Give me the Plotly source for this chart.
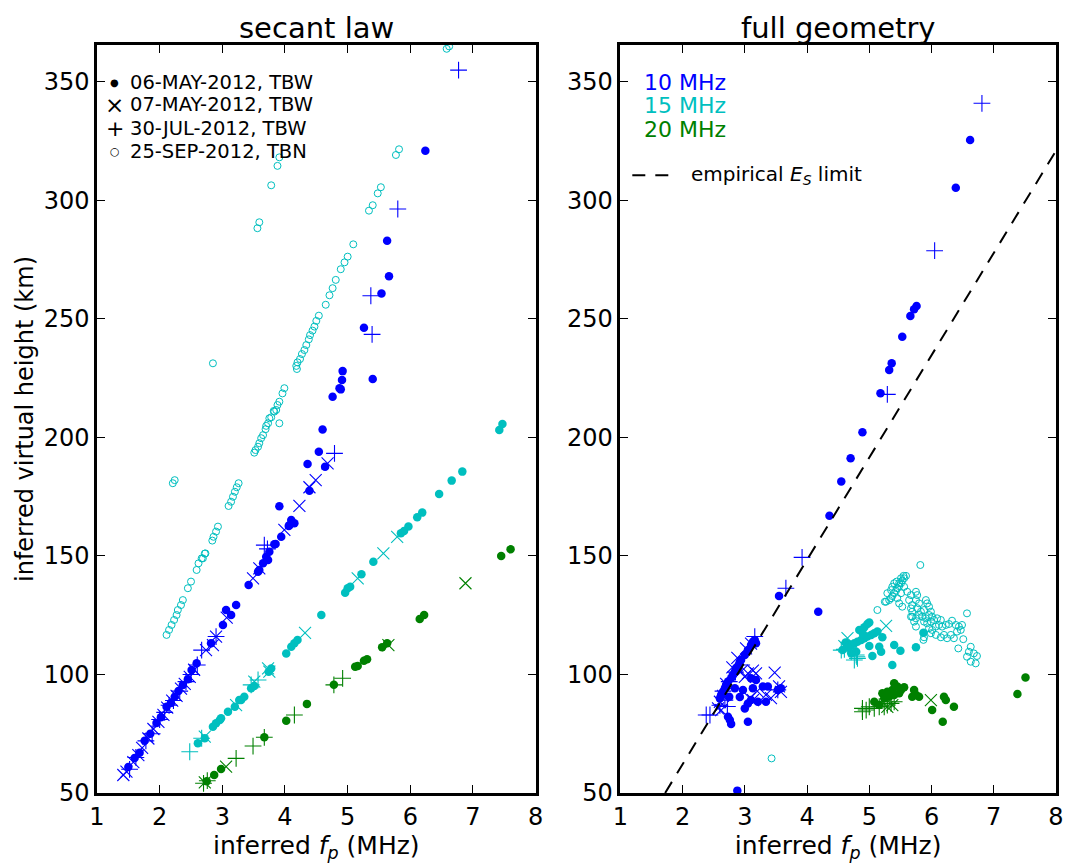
import plotly.graph_objects as go

# ---- secant law panel (left) ----
sec_b_dot_f = [1.50, 1.60, 1.68, 1.76, 1.85, 1.95, 2.02, 2.11, 2.18, 2.24, 2.30, 2.37, 2.45, 2.51, 2.59,
               2.82, 3.01, 3.06, 3.14, 3.22, 3.42, 3.57, 3.59, 3.65, 3.70, 3.73, 3.75, 3.83, 3.85, 3.94,
               4.06, 4.07, 4.10, 4.15, 3.91, 4.39, 4.36, 4.54, 4.64, 4.60, 4.76, 4.87, 4.89, 4.91, 4.92,
               5.40, 5.26, 5.54, 5.66, 5.63, 6.24]
sec_b_dot_h = [61.0, 64.8, 67.0, 72.0, 75.0, 79.5, 82.0, 86.4, 88.0, 90.6, 93.0, 95.6, 98.0, 101.9, 104.7,
               113.2, 120.9, 127.2, 125.1, 129.3, 137.8, 143.4, 144.1, 146.9, 149.7, 148.3, 151.8, 155.0, 155.1, 158.1,
               162.7, 163.0, 165.2, 163.8, 171.0, 177.5, 188.8, 194.0, 187.7, 203.4, 217.2, 220.8, 220.3, 224.3, 228.0,
               224.7, 246.3, 260.8, 268.0, 283.0, 321.0]
sec_b_x_f = [1.42, 1.47, 1.58, 1.66, 1.72, 1.82, 1.90, 1.98, 2.06, 2.12, 2.20, 2.27, 2.34, 2.40, 2.48,
             2.55, 2.74, 2.85, 2.90, 3.07, 3.49, 3.59, 3.99, 4.23, 4.39, 4.49, 4.68]
sec_b_x_h = [57.6, 59.0, 63.0, 66.0, 69.0, 73.0, 77.0, 80.0, 83.0, 86.0, 89.0, 91.0, 94.0, 96.0, 99.0,
             102.0, 110.3, 112.4, 116.0, 124.0, 140.6, 144.8, 161.0, 171.1, 179.0, 182.0, 189.1]
sec_b_p_f = [1.52, 1.62, 1.78, 1.88, 2.00, 2.08, 2.15, 2.22, 2.32, 2.42, 2.50, 2.60, 2.67, 2.90,
             3.67, 3.72, 4.79, 5.37, 5.39, 5.80, 6.77]
sec_b_p_h = [60.0, 65.0, 72.0, 75.0, 81.0, 84.0, 87.0, 89.0, 93.0, 97.0, 100.0, 104.0, 110.3, 116.0,
             154.6, 153.0, 193.3, 259.8, 243.5, 296.4, 355.0]

sec_c_dot_f = [2.61, 2.72, 2.85, 2.90, 2.96, 2.98, 3.09, 3.20, 3.27, 3.30, 3.35, 3.46, 3.51, 3.74, 3.78,
               4.02, 4.10, 4.15, 4.20, 4.58, 4.96, 5.00, 5.04, 5.22, 5.41, 5.85, 5.90, 5.97, 6.11, 6.19,
               6.46, 6.66, 6.83, 7.42, 7.47]
sec_c_dot_h = [71.0, 73.1, 78.0, 79.4, 80.8, 81.5, 84.3, 86.4, 89.2, 89.2, 90.6, 94.2, 95.1, 101.2, 102.5,
               108.9, 111.7, 113.2, 114.6, 125.1, 134.5, 136.4, 137.0, 142.3, 147.6, 159.6, 160.5, 162.4, 166.3, 168.3,
               176.2, 181.8, 185.6, 203.2, 205.7]
sec_c_x_f = [2.72, 3.22, 3.51, 3.73, 3.75, 4.32, 5.16, 5.57, 5.79]
sec_c_x_h = [73.8, 87.1, 97.0, 102.6, 101.2, 117.6, 140.6, 151.1, 158.1]
sec_c_p_f = [2.48, 2.67, 3.46, 3.57]
sec_c_p_h = [67.4, 73.1, 95.6, 97.7]

sec_g_dot_f = [2.75, 2.87, 2.98, 3.67, 4.02, 4.35, 4.78, 5.12, 5.16, 5.26, 5.31, 5.55, 5.63, 6.15, 6.22, 7.45, 7.60]
sec_g_dot_h = [55.0, 57.6, 60.1, 73.5, 80.5, 87.6, 95.7, 103.3, 103.6, 105.8, 106.4, 111.5, 113.2, 123.4, 125.1, 150.0, 152.8]
sec_g_x_f = [2.72, 3.06, 5.65, 6.88]
sec_g_x_h = [54.5, 61.1, 112.4, 138.5]
sec_g_p_f = [2.70, 2.76, 3.22, 3.49, 3.67, 4.15, 4.92, 4.78]
sec_g_p_h = [54.1, 55.2, 64.6, 69.8, 73.5, 82.9, 98.4, 95.6]

sec_c_open_f = [2.11, 2.15, 2.19, 2.23, 2.27, 2.29, 2.34, 2.37, 2.45, 2.50, 2.59, 2.62, 2.67, 2.69, 2.72, 2.73,
                2.84, 2.86, 2.90, 2.93, 3.10, 3.14, 3.17, 3.20, 3.23, 3.26, 3.51, 3.53, 3.57, 3.59, 3.62, 3.65,
                3.69, 3.70, 3.73, 3.75, 3.78, 3.82, 3.83, 3.86, 3.88, 3.91, 3.96, 3.99, 3.91, 4.18, 4.19, 4.20,
                4.24, 4.27, 4.31, 4.34, 4.38, 4.40, 4.44, 4.47, 4.50, 4.54, 4.65, 4.71, 4.76, 4.81, 4.89, 4.95,
                5.00, 5.09, 5.34, 5.40, 5.48, 5.53, 5.77, 5.82, 6.58, 6.62,
                2.21, 2.24, 2.85, 3.56, 3.59, 3.78, 3.88, 3.91]
sec_c_open_h = [116.7, 118.8, 120.9, 123.0, 125.1, 127.2, 129.3, 131.4, 136.4, 139.2, 144.1, 146.9, 149.0, 149.0, 151.0, 151.1,
                156.5, 158.1, 160.3, 162.4, 171.1, 172.9, 175.0, 177.1, 179.0, 180.7, 193.6, 194.7, 196.1, 197.6, 199.7, 201.0,
                203.5, 204.9, 206.0, 208.1, 208.5, 211.2, 210.9, 211.6, 213.7, 215.1, 218.6, 220.8, 206.0, 230.2, 228.9, 231.7,
                233.1, 235.2, 236.9, 239.0, 241.4, 243.2, 245.1, 246.8, 249.2, 251.4, 256.0, 260.0, 263.0, 266.5, 271.0, 273.9,
                276.3, 281.5, 295.7, 298.0, 303.0, 305.6, 319.2, 321.6, 364.0, 365.0,
                180.7, 182.0, 231.3, 288.3, 290.8, 306.4, 314.6, 318.2]

# ---- full geometry panel (right) ----
geo_b_dot_f = [6.62, 6.39, 5.76, 5.72, 5.66, 5.53, 5.36, 5.32, 5.18, 4.89, 4.70, 4.55, 4.36, 3.55, 4.18, 2.88,
               3.16, 3.18, 3.10, 3.13, 3.05, 3.00, 2.94, 2.92, 2.90, 2.86, 2.84, 2.81, 2.78, 2.73, 2.70, 2.68,
               2.65, 2.62, 2.60, 2.76, 2.73, 2.78, 3.05, 2.75, 3.00, 3.05, 3.10, 3.21, 3.34, 3.29, 3.37, 2.84,
               2.97, 3.10, 3.18, 3.53, 3.58, 3.13, 2.92]
geo_b_dot_h = [325.5, 305.4, 255.5, 254.1, 251.3, 242.5, 231.3, 228.5, 218.7, 202.2, 191.2, 181.4, 167.0, 133.1, 126.5, 51.0,
               114.6, 113.2, 112.4, 113.8, 110.3, 108.2, 106.1, 105.4, 104.0, 102.6, 101.2, 99.8, 98.4, 97.0, 95.6, 94.2,
               92.7, 91.4, 90.0, 80.8, 82.2, 79.1, 80.1, 90.6, 85.7, 87.8, 89.2, 88.5, 88.5, 94.9, 94.9, 94.2,
               93.5, 98.4, 97.7, 93.5, 94.2, 94.2, 90.5]
geo_b_x_f = [3.48, 3.18, 3.13, 3.05, 3.58, 3.42, 3.34, 3.08, 3.13, 2.57, 2.62, 2.94, 3.00, 2.70, 2.80,
             2.88, 3.02, 3.10, 2.60, 2.65, 3.20, 3.55]
geo_b_x_h = [100.8, 100.5, 101.6, 100.5, 92.7, 90.0, 91.4, 90.0, 89.2, 85.7, 85.0, 101.2, 99.0, 96.0, 103.0,
             107.0, 111.0, 113.0, 88.5, 91.0, 93.0, 95.0]
geo_b_p_f = [6.81, 6.05, 5.29, 3.92, 3.66, 2.38, 2.44, 2.68, 2.60, 2.65, 2.75, 2.85, 2.95, 3.53, 3.16, 2.72]
geo_b_p_h = [341.0, 278.8, 218.2, 149.4, 136.4, 82.9, 82.9, 89.2, 87.0, 93.0, 97.0, 101.0, 104.0, 93.5, 116.0, 86.5]

geo_c_dot_f = [4.57, 4.65, 4.71, 4.76, 4.81, 4.87, 4.92, 4.97, 5.03, 5.08, 5.13, 4.84, 4.92, 4.97, 5.00,
               5.21, 5.16, 5.19, 5.05, 5.00, 5.40, 5.50, 5.37, 5.75, 5.87, 4.71, 4.79, 4.62, 4.90]
geo_c_dot_h = [110.3, 111.7, 112.4, 113.2, 113.8, 114.6, 115.3, 116.0, 116.7, 117.4, 118.1, 118.8, 119.9, 121.3, 121.9,
               115.7, 111.7, 109.6, 107.8, 112.0, 112.4, 110.0, 104.0, 111.5, 117.6, 109.0, 109.6, 113.5, 117.0]
geo_c_x_f = [5.27, 4.65, 4.60, 4.75]
geo_c_x_h = [120.5, 115.3, 112.0, 112.0]
geo_c_p_f = [4.55, 4.71, 4.79, 4.81, 4.76, 4.80, 4.60, 4.68]
geo_c_p_h = [110.3, 109.6, 108.2, 106.8, 106.1, 107.5, 110.6, 111.0]
geo_c_open_f = [5.82, 5.59, 5.56, 5.53, 5.51, 5.48, 5.45, 5.43, 5.40, 5.37, 5.35, 5.32, 5.27, 5.25, 5.13,
                5.51, 5.56, 5.61, 5.67, 5.64, 5.69, 5.67, 5.45, 5.48, 5.53, 5.75, 5.77, 5.75, 5.80,
                5.69, 5.77, 5.83, 5.88, 5.91, 5.93, 5.96, 5.99, 5.69, 5.75, 5.80, 5.85, 5.91, 5.96, 6.01,
                5.88, 5.93, 5.99, 6.04, 6.09, 6.15, 5.96, 6.01, 6.07, 6.12, 6.17, 6.23, 6.28, 6.33, 6.39,
                6.44, 6.49, 5.99, 6.07, 6.15, 6.20, 6.25, 6.31, 6.36, 6.41, 6.47, 6.51, 5.87, 5.88, 6.43,
                6.57, 6.63, 6.60, 6.68, 6.73, 6.57, 6.63, 6.71, 5.67, 5.72, 5.75, 5.29, 5.35, 5.37, 5.40,
                5.44, 5.48, 5.51, 5.55, 3.43]
geo_c_open_h = [146.2, 141.6, 140.6, 139.6, 138.5, 137.3, 136.4, 135.4, 134.3, 133.1, 132.2, 131.4, 130.7, 130.7, 127.2,
                134.3, 137.0, 134.9, 133.5, 131.4, 129.3, 127.9, 132.2, 130.0, 128.6, 134.9, 133.5, 131.4, 130.0,
                126.5, 128.0, 126.5, 127.2, 131.4, 130.0, 128.6, 126.5, 124.4, 123.7, 125.1, 124.4, 123.7, 125.1, 124.4,
                122.3, 121.6, 122.3, 123.0, 123.7, 123.0, 119.5, 118.8, 120.2, 120.9, 120.2, 120.9, 121.3, 122.7, 120.9,
                120.2, 120.9, 117.4, 116.7, 115.7, 116.7, 115.3, 116.7, 115.3, 118.1, 118.8, 114.9, 114.6, 115.7, 111.0,
                125.8, 111.7, 109.6, 108.9, 107.8, 107.5, 105.4, 104.7, 124.4, 122.3, 120.2, 134.3, 135.6, 137.0, 138.5,
                139.2, 138.5, 140.6, 141.6, 64.6]

geo_g_dot_f = [5.40, 5.45, 5.37, 5.29, 5.21, 5.32, 5.40, 5.48, 5.56, 5.51, 5.24, 5.08, 5.16, 5.72, 5.75,
               5.69, 5.80, 6.20, 6.23, 6.36, 6.01, 6.18, 7.38, 7.51]
geo_g_dot_h = [96.3, 94.9, 93.5, 92.7, 92.1, 90.6, 91.4, 92.1, 94.6, 93.5, 90.0, 88.5, 87.1, 93.5, 91.4,
               90.6, 90.6, 90.6, 89.2, 86.4, 85.0, 80.1, 91.8, 98.7]
geo_g_x_f = [5.99, 5.29, 5.37]
geo_g_x_h = [89.2, 86.3, 87.1]
geo_g_p_f = [4.89, 4.95, 5.00, 5.08, 5.16, 5.24, 5.29, 5.35, 5.40, 4.89]
geo_g_p_h = [85.7, 85.0, 86.4, 85.7, 86.4, 86.4, 87.1, 87.8, 88.5, 84.3]

# empirical Es limit line
es_f = [1.72, 8.0]
es_h = [50.0, 321.0]

date_labels = ["06-MAY-2012, TBW", "07-MAY-2012, TBW", "30-JUL-2012, TBW", "25-SEP-2012, TBN"]
date_glyphs = ["●", "×", "+", "○"]
freq_labels = ["10 MHz", "15 MHz", "20 MHz"]
es_label = "empirical <i>E</i><sub><i>S</i></sub> limit"

BLUE = "#0000ff"
CYAN = "#00bfbf"
GREEN = "#008000"
FONT = "DejaVu Sans"


def dots(f, h, color, xa, ya):
    return go.Scatter(x=f, y=h, mode="markers", xaxis=xa, yaxis=ya, hoverinfo="x+y",
                      marker=dict(symbol="circle", size=8.5, color=color, line=dict(width=0)))


def crosses(f, h, color, xa, ya):
    return go.Scatter(x=f, y=h, mode="markers", xaxis=xa, yaxis=ya, hoverinfo="x+y",
                      marker=dict(symbol="x-thin", size=12, color=color, line=dict(color=color, width=1.1)))


def pluses(f, h, color, xa, ya):
    return go.Scatter(x=f, y=h, mode="markers", xaxis=xa, yaxis=ya, hoverinfo="x+y",
                      marker=dict(symbol="cross-thin", size=12, color=color, line=dict(color=color, width=1.1)))


def opens(f, h, color, xa, ya):
    return go.Scatter(x=f, y=h, mode="markers", xaxis=xa, yaxis=ya, hoverinfo="x+y",
                      marker=dict(symbol="circle-open", size=7, color=color, line=dict(color=color, width=1)))


fig = go.Figure()

# left panel
fig.add_trace(opens(sec_c_open_f, sec_c_open_h, CYAN, "x", "y"))
for pf, ph, df, dh, xf, xh, c in [
        (sec_g_p_f, sec_g_p_h, sec_g_dot_f, sec_g_dot_h, sec_g_x_f, sec_g_x_h, GREEN),
        (sec_c_p_f, sec_c_p_h, sec_c_dot_f, sec_c_dot_h, sec_c_x_f, sec_c_x_h, CYAN),
        (sec_b_p_f, sec_b_p_h, sec_b_dot_f, sec_b_dot_h, sec_b_x_f, sec_b_x_h, BLUE)]:
    fig.add_trace(dots(df, dh, c, "x", "y"))
    fig.add_trace(crosses(xf, xh, c, "x", "y"))
    fig.add_trace(pluses(pf, ph, c, "x", "y"))

# right panel
fig.add_trace(opens(geo_c_open_f, geo_c_open_h, CYAN, "x2", "y2"))
for pf, ph, df, dh, xf, xh, c in [
        (geo_g_p_f, geo_g_p_h, geo_g_dot_f, geo_g_dot_h, geo_g_x_f, geo_g_x_h, GREEN),
        (geo_c_p_f, geo_c_p_h, geo_c_dot_f, geo_c_dot_h, geo_c_x_f, geo_c_x_h, CYAN),
        (geo_b_p_f, geo_b_p_h, geo_b_dot_f, geo_b_dot_h, geo_b_x_f, geo_b_x_h, BLUE)]:
    fig.add_trace(dots(df, dh, c, "x2", "y2"))
    fig.add_trace(crosses(xf, xh, c, "x2", "y2"))
    fig.add_trace(pluses(pf, ph, c, "x2", "y2"))

fig.add_trace(go.Scatter(x=es_f, y=es_h, mode="lines", xaxis="x2", yaxis="y2",
                         line=dict(color="black", width=2, dash="13px,10px"), name="Es limit"))

axis_common = dict(range=[1, 8], dtick=1, tick0=1, ticks="inside", ticklen=8, tickwidth=1,
                   tickcolor="black", showline=True, linewidth=2.5, linecolor="black", mirror="ticks",
                   showgrid=False, zeroline=False, tickfont=dict(family=FONT, size=24, color="black"))
yaxis_common = dict(range=[50, 365.6], tickvals=[50, 100, 150, 200, 250, 300, 350], ticks="inside",
                    ticklen=8, tickwidth=1, tickcolor="black", showline=True, linewidth=2.5,
                    linecolor="black", mirror="ticks", showgrid=False, zeroline=False,
                    tickfont=dict(family=FONT, size=24, color="black"))

xtitle = "inferred <i>f</i><sub><i>p</i></sub> (MHz)"
# the page body has an 8px margin, so the figure is sized/offset to compensate
fig.update_layout(
    width=1068, height=857,
    margin=dict(l=89, r=17, t=37, b=72),
    paper_bgcolor="white", plot_bgcolor="white",
    font=dict(family=FONT, color="black"),
    showlegend=False,
    xaxis=dict(domain=[0, 0.4574], title=dict(text=xtitle, font=dict(size=25), standoff=2), **axis_common),
    yaxis=dict(domain=[0, 1], title=dict(text="inferred virtual height (km)", font=dict(size=24), standoff=4),
               **yaxis_common),
    xaxis2=dict(domain=[0.5457, 1], anchor="y2", title=dict(text=xtitle, font=dict(size=25), standoff=2),
                **axis_common),
    yaxis2=dict(domain=[0, 1], anchor="x2", **yaxis_common),
)

fig.add_annotation(text="secant law", xref="x domain", yref="paper", x=0.5, y=1.0, yshift=-1,
                   xanchor="center", yanchor="bottom", showarrow=False, borderpad=0, font=dict(size=29))
fig.add_annotation(text="full geometry", xref="x2 domain", yref="paper", x=0.5, y=1.0, yshift=-1,
                   xanchor="center", yanchor="bottom", showarrow=False, borderpad=0, font=dict(size=29))

# left legend: symbol + label rows
leg_rows = [0.9505, 0.9198, 0.8890, 0.8570]
glyph_sizes = [10, 23, 22, 11]
for lab, gl, gs, yy in zip(date_labels, date_glyphs, glyph_sizes, leg_rows):
    fig.add_annotation(text=gl, xref="x domain", yref="paper", x=0.041, y=yy, xanchor="center",
                       yanchor="middle", showarrow=False, borderpad=0, font=dict(size=gs, color="black"))
    fig.add_annotation(text=lab, xref="x domain", yref="paper", x=0.072, y=yy, xanchor="left",
                       yanchor="middle", showarrow=False, borderpad=0, font=dict(size=19.5, color="black"))

# right panel frequency labels
for i, (lab, col) in enumerate(zip(freq_labels, [BLUE, CYAN, GREEN])):
    fig.add_annotation(text=lab, xref="x2 domain", yref="paper", x=0.05, y=0.9505 - i * 0.032,
                       xanchor="left", yanchor="middle", showarrow=False, font=dict(size=22, color=col))

# right panel legend for the dashed line
fig.add_shape(type="line", xref="x2 domain", yref="paper", x0=0.0275, x1=0.121, y0=0.826, y1=0.826,
              line=dict(color="black", width=2, dash="13px,10px"))
fig.add_annotation(text=es_label, xref="x2 domain", yref="paper", x=0.158, y=0.826, xanchor="left",
                   yanchor="middle", showarrow=False, font=dict(size=20, color="black"))

fig.write_html("out.html")
